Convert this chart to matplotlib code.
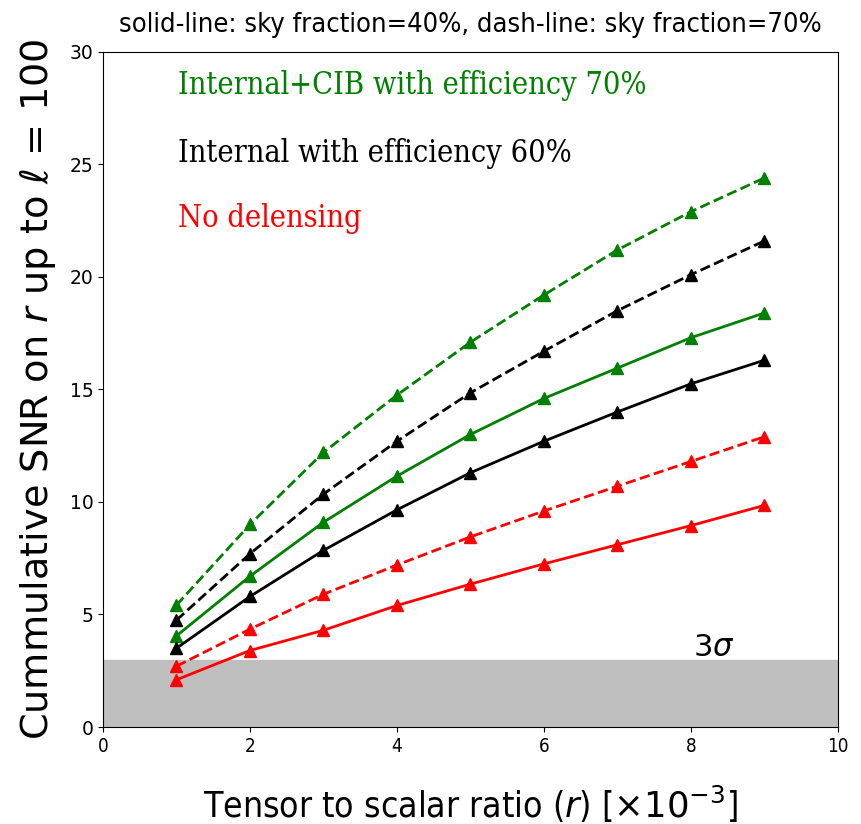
import numpy as np
import matplotlib
matplotlib.use("Agg")
import matplotlib.pyplot as plt

# tensor-to-scalar ratio, units of 1e-3
r = [1, 2, 3, 4, 5, 6, 7, 8, 9]

# solid: sky fraction 40%
cib_40 = [4.05, 6.7, 9.1, 11.15, 13.0, 14.6, 15.95, 17.3, 18.4]
int_40 = [3.5, 5.8, 7.85, 9.65, 11.3, 12.7, 14.0, 15.25, 16.3]
none_40 = [2.1, 3.4, 4.3, 5.4, 6.35, 7.25, 8.1, 8.95, 9.85]

# dashed: sky fraction 70%
cib_70 = [5.42, 9.0, 12.2, 14.75, 17.1, 19.2, 21.2, 22.9, 24.4]
int_70 = [4.75, 7.7, 10.35, 12.7, 14.85, 16.7, 18.5, 20.1, 21.6]
none_70 = [2.7, 4.35, 5.9, 7.2, 8.45, 9.6, 10.7, 11.8, 12.9]

labels = ["Internal+CIB with efficiency 70%", "Internal with efficiency 60%", "No delensing"]
colors = ["green", "black", "red"]

fig = plt.figure(figsize=(8.62, 8.24), dpi=100)
ax = fig.add_axes([0.1195, 0.1177, 0.8525, 0.8193])

ax.axhspan(0, 3, color="#bfbfbf", zorder=0)

for ys, c in zip([cib_40, int_40, none_40], colors):
    ax.plot(r, ys, "-", color=c, lw=2, marker="^", ms=8)
for ys, c in zip([cib_70, int_70, none_70], colors):
    ax.plot(r, ys, "--", color=c, lw=2, marker="^", ms=8)

for lab, c, yy in zip(labels, colors, [28.5, 25.5, 22.6]):
    ax.text(1.02, yy, lab, color=c, fontsize=22, family="DejaVu Serif",
            fontstretch="condensed", va="center", ha="left")

ax.text(8.03, 3.55, r"$3\sigma$", fontsize=22, va="center", ha="left")

ax.set_xlim(0, 10)
ax.set_ylim(0, 30)
ax.set_xticks([0, 2, 4, 6, 8, 10])
ax.set_yticks([0, 5, 10, 15, 20, 25, 30])
ax.tick_params(labelsize=13.5)
for t in ax.get_xticklabels():
    t.set_fontstretch("condensed")

ax.set_xlabel(r"Tensor to scalar ratio ($r$) [$\times10^{-3}$]", fontsize=25.5,
              fontstretch="condensed", labelpad=20)
ax.set_ylabel(r"Cummulative SNR on $r$ up to $\ell$ = 100", fontsize=27.5, labelpad=8)
ax.set_title("solid-line: sky fraction=40%, dash-line: sky fraction=70%",
             fontsize=19.5, fontstretch="condensed", pad=14)

fig.savefig("out.png", dpi=100)
